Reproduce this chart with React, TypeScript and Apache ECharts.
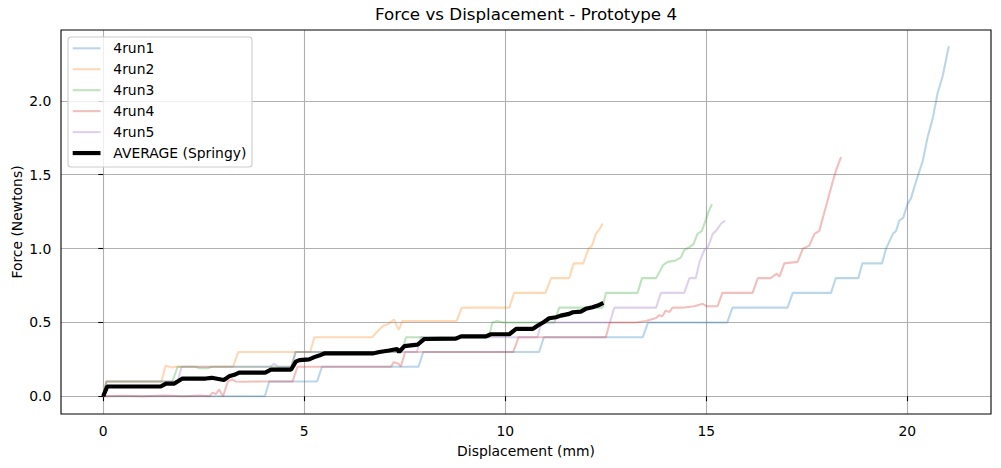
import React, { useEffect, useRef } from "react";
import * as echarts from "echarts";

const runNames = ["4run1", "4run2", "4run3", "4run4", "4run5"];
const runColors = ["#1f77b4", "#ff7f0e", "#2ca02c", "#d62728", "#9467bd"];
const averageName = "AVERAGE (Springy)";
const averageColor = "#000000";

const run1 = [
  [0, 0], [4.02, 0], [4.13, 0.1], [5.32, 0.1], [5.44, 0.2], [7.84, 0.2], [7.96, 0.3],
  [10.84, 0.3], [10.96, 0.4], [13.42, 0.4], [13.55, 0.5], [15.52, 0.5], [15.65, 0.6],
  [17.02, 0.6], [17.15, 0.7], [18.1, 0.7], [18.22, 0.8], [18.78, 0.8], [18.88, 0.9],
  [19.37, 0.9], [19.47, 1.0], [19.64, 1.1], [19.72, 1.12], [19.8, 1.19], [19.9, 1.21],
  [20.0, 1.3], [20.09, 1.34], [20.21, 1.45], [20.38, 1.59], [20.5, 1.75], [20.63, 1.88],
  [20.75, 2.05], [20.88, 2.17], [21.03, 2.37]
];
const run2 = [
  [0, 0], [0.08, 0.1], [1.45, 0.1], [1.55, 0.207], [1.72, 0.195], [1.8, 0.2], [3.23, 0.2],
  [3.36, 0.3], [5.15, 0.3], [5.25, 0.4], [6.69, 0.4], [6.86, 0.45], [6.98, 0.48],
  [7.1, 0.49], [7.23, 0.52], [7.35, 0.45], [7.44, 0.51], [8.79, 0.51], [8.92, 0.6],
  [10.1, 0.6], [10.22, 0.7], [11.0, 0.7], [11.14, 0.8], [11.59, 0.8], [11.7, 0.9],
  [11.94, 0.9], [12.07, 1.0], [12.16, 1.02], [12.25, 1.1], [12.34, 1.13], [12.42, 1.17]
];
const run3 = [
  [0, 0], [0.08, 0.1], [1.72, 0.1], [1.85, 0.2], [2.3, 0.2], [2.4, 0.19], [2.6, 0.19],
  [2.7, 0.2], [4.68, 0.2], [4.79, 0.3], [7.43, 0.3], [7.53, 0.4], [9.59, 0.4],
  [9.68, 0.5], [9.8, 0.51], [9.95, 0.5], [11.22, 0.5], [11.34, 0.6], [12.42, 0.6],
  [12.5, 0.7], [13.29, 0.7], [13.4, 0.8], [13.75, 0.8], [13.83, 0.84], [13.93, 0.89],
  [14.04, 0.91], [14.24, 0.92], [14.37, 0.94], [14.45, 0.99], [14.58, 1.01],
  [14.68, 1.03], [14.78, 1.1], [14.89, 1.12], [14.98, 1.19], [15.07, 1.26], [15.14, 1.3]
];
const run4 = [
  [0, 0], [0.5, 0.003], [1.0, 0], [1.5, 0.005], [2.0, 0], [2.4, 0.005], [2.64, 0],
  [2.72, 0.025], [2.8, 0.015], [2.88, 0.045], [2.98, 0], [3.1, 0.1], [3.2, 0.115],
  [3.3, 0.1], [3.5, 0.098], [3.9, 0.1], [4.71, 0.1], [4.83, 0.2], [7.16, 0.2],
  [7.22, 0.23], [7.35, 0.22], [7.4, 0.2], [7.51, 0.3], [10.2, 0.3], [10.33, 0.4],
  [12.5, 0.4], [12.6, 0.5], [13.25, 0.5], [13.5, 0.51], [13.75, 0.53], [13.83, 0.55],
  [13.9, 0.54], [13.99, 0.58], [14.08, 0.57], [14.16, 0.6], [14.4, 0.6], [14.7, 0.61],
  [14.91, 0.626], [15.0, 0.61], [15.28, 0.61], [15.4, 0.7], [16.15, 0.7], [16.28, 0.8],
  [16.6, 0.8], [16.75, 0.83], [16.82, 0.81], [16.94, 0.9], [17.27, 0.91], [17.4, 1.0],
  [17.56, 1.02], [17.69, 1.1], [17.81, 1.12], [17.98, 1.29], [18.14, 1.45],
  [18.24, 1.54], [18.35, 1.62]
];
const run5 = [
  [0, 0], [0.08, 0.1], [1.85, 0.1], [1.95, 0.2], [4.15, 0.2], [4.25, 0.22], [4.35, 0.2],
  [4.68, 0.2], [4.78, 0.3], [7.8, 0.3], [7.9, 0.4], [10.8, 0.4], [10.9, 0.5],
  [12.6, 0.5], [12.71, 0.6], [13.75, 0.6], [13.87, 0.7], [14.45, 0.7], [14.58, 0.8],
  [14.74, 0.8], [14.83, 0.91], [14.95, 0.99], [15.04, 1.01], [15.16, 1.1],
  [15.24, 1.12], [15.37, 1.17], [15.47, 1.19]
];
const average = [
  [0, 0], [0.1, 0.066], [1.43, 0.066], [1.56, 0.086], [1.77, 0.086], [1.85, 0.1],
  [1.97, 0.12], [2.55, 0.12], [2.7, 0.125], [2.9, 0.115], [3.0, 0.11], [3.13, 0.135],
  [3.26, 0.145], [3.38, 0.16], [4.03, 0.16], [4.17, 0.18], [4.67, 0.18], [4.79, 0.235],
  [4.88, 0.245], [5.12, 0.25], [5.25, 0.265], [5.41, 0.28], [5.5, 0.29], [6.7, 0.29],
  [6.87, 0.3], [7.11, 0.31], [7.31, 0.32], [7.36, 0.3], [7.49, 0.34], [7.65, 0.345],
  [7.82, 0.35], [7.99, 0.388], [8.77, 0.39], [8.9, 0.406], [9.52, 0.406], [9.64, 0.42],
  [10.1, 0.42], [10.27, 0.456], [10.68, 0.456], [10.8, 0.478], [10.97, 0.505],
  [11.09, 0.528], [11.26, 0.535], [11.38, 0.546], [11.59, 0.558], [11.68, 0.569],
  [11.88, 0.573], [12.0, 0.592], [12.17, 0.603], [12.3, 0.614], [12.44, 0.633]
];
const runs = [run1, run2, run3, run4, run5];

const xTicks = [0, 5, 10, 15, 20];
const yTicks = [0, 0.5, 1, 1.5, 2];
const xLimits = [-1.05, 22.08];
const yLimits = [-0.12, 2.48];

const titleText = "Force vs Displacement - Prototype 4";
const xLabelText = "Displacement (mm)";
const yLabelText = "Force (Newtons)";

const FONT = "DejaVu Sans";

export default function App() {
  const ref = useRef<HTMLDivElement>(null);

  useEffect(() => {
    if (!ref.current) return;
    const chart = echarts.init(ref.current, undefined, { renderer: "svg" });

    const W = 1001, H = 468;
    const gl = 61, gr = 991, gt = 30, gb = 414;
    const cx = (gl + gr) / 2;

    const series: any[] = runs.map((d, i) => ({
      name: runNames[i],
      type: "line",
      data: d,
      symbol: "none",
      silent: true,
      emphasis: { disabled: true },
      lineStyle: { color: runColors[i], width: 2.08, opacity: 0.3 },
      z: 2 + i,
    }));
    series.push({
      name: averageName,
      type: "line",
      data: average,
      symbol: "none",
      silent: true,
      emphasis: { disabled: true },
      lineStyle: { color: averageColor, width: 4.17, opacity: 1 },
      z: 10,
    });

    const legendNames = [...runNames, averageName];
    const legendColors = [...runColors, averageColor];
    const legendElems: any[] = [
      {
        type: "rect",
        shape: { x: 68, y: 37, width: 184, height: 130, r: 3 },
        style: { fill: "rgba(255,255,255,0.8)", stroke: "#cccccc", lineWidth: 1.1 },
        z: 100,
      },
    ];
    legendNames.forEach((n, i) => {
      const yy = 48.3 + i * 20.95;
      const isAvg = i === legendNames.length - 1;
      legendElems.push({
        type: "line",
        shape: { x1: 72.7, y1: yy, x2: 100.5, y2: yy },
        style: {
          stroke: legendColors[i],
          lineWidth: isAvg ? 4.17 : 2.08,
          opacity: isAvg ? 1 : 0.3,
        },
        z: 101,
      });
      legendElems.push({
        type: "text",
        x: 113.3,
        y: yy,
        style: {
          text: n,
          fill: "#000",
          font: `13.9px "${FONT}"`,
          textAlign: "left",
          textVerticalAlign: "middle",
        },
        z: 101,
      });
    });

    chart.setOption({
      animation: false,
      backgroundColor: "#ffffff",
      grid: { left: gl, right: W - gr, top: gt, bottom: H - gb, containLabel: false },
      xAxis: {
        type: "value",
        min: xLimits[0],
        max: xLimits[1],
        axisLine: { show: false },
        axisTick: {
          show: true,
          customValues: xTicks,
          length: 4.9,
          lineStyle: { color: "#000", width: 1.1 },
        },
        axisLabel: {
          customValues: xTicks,
          margin: 9.7,
          color: "#000",
          fontSize: 13.9,
          fontFamily: FONT,
          formatter: (v: number) => String(v),
        },
        splitLine: { show: true, lineStyle: { color: "#b0b0b0", width: 1.1 } },
      },
      yAxis: {
        type: "value",
        min: yLimits[0],
        max: yLimits[1],
        axisLine: { show: false },
        axisTick: {
          show: true,
          customValues: yTicks,
          length: 4.9,
          lineStyle: { color: "#000", width: 1.1 },
        },
        axisLabel: {
          customValues: yTicks,
          margin: 9.7,
          color: "#000",
          fontSize: 13.9,
          fontFamily: FONT,
          formatter: (v: number) => v.toFixed(1),
        },
        splitLine: { show: true, lineStyle: { color: "#b0b0b0", width: 1.1 } },
      },
      series,
      graphic: [
        {
          type: "rect",
          shape: { x: gl, y: gt, width: gr - gl, height: gb - gt },
          style: { fill: "none", stroke: "#000", lineWidth: 1.1 },
          z: 90,
          silent: true,
        },
        {
          type: "text",
          x: cx,
          y: 13.5,
          style: {
            text: titleText,
            fill: "#000",
            font: `16.7px "${FONT}"`,
            textAlign: "center",
            textVerticalAlign: "middle",
          },
        },
        {
          type: "text",
          x: cx,
          y: 451,
          style: {
            text: xLabelText,
            fill: "#000",
            font: `13.9px "${FONT}"`,
            textAlign: "center",
            textVerticalAlign: "middle",
          },
        },
        {
          type: "text",
          x: 16.5,
          y: (gt + gb) / 2,
          rotation: Math.PI / 2,
          style: {
            text: yLabelText,
            fill: "#000",
            font: `13.9px "${FONT}"`,
            textAlign: "center",
            textVerticalAlign: "middle",
          },
        },
        ...legendElems,
      ],
    });

    return () => chart.dispose();
  }, []);

  return (
    <div
      ref={ref}
      style={{ position: "fixed", left: 0, top: 0, width: 1001, height: 468, background: "#fff" }}
    />
  );
}
